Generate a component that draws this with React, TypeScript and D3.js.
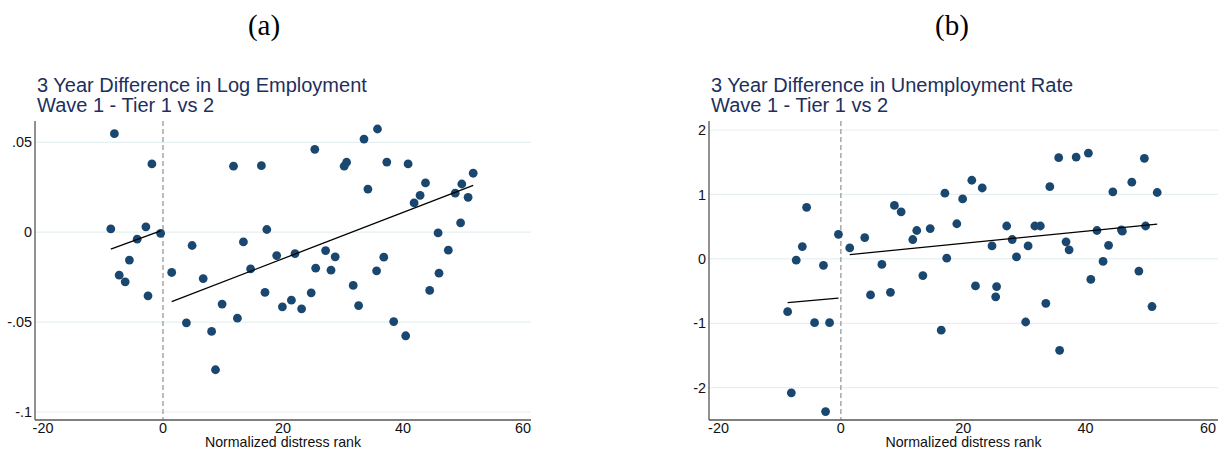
import React from 'react';
import * as d3 from 'd3';

// normalized distress rank of each county (shared by both panels)
const rankPre = [-8.7, -8.1, -7.3, -6.3, -5.6, -4.3, -2.85, -2.5, -1.85, -0.4];
const rankPost = [
  1.45, 3.9, 4.85, 6.7, 8.1, 8.75, 9.85, 11.75, 12.4, 13.4,
  14.6, 16.4, 17.0, 17.3, 18.95, 19.9, 21.4, 22.0, 23.1, 24.7,
  25.3, 25.45, 27.1, 28.0, 28.7, 30.2, 30.6, 31.7, 32.6, 33.5,
  34.15, 35.6, 35.75, 36.8, 37.3, 38.45, 40.45, 40.85, 41.85, 42.85,
  43.75, 44.45, 45.85, 46.0, 47.55, 48.7, 49.6, 49.8, 50.85, 51.7
];

// (a) 3 year difference in log employment
const empPre = [0.0018, 0.0548, -0.0239, -0.0276, -0.0155, -0.0039, 0.003, -0.0354, 0.038, -0.0006];
const empPost = [
  -0.0224, -0.0504, -0.0074, -0.0258, -0.0552, -0.0765, -0.04, 0.0367, -0.0478, -0.0054,
  -0.0204, 0.037, -0.0335, 0.0015, -0.013, -0.0415, -0.0378, -0.0119, -0.0426, -0.0337,
  0.0461, -0.02, -0.0102, -0.0211, -0.0137, 0.0367, 0.0389, -0.0296, -0.0408, 0.0518,
  0.024, -0.0215, 0.0574, -0.0139, 0.039, -0.0497, -0.0576, 0.038, 0.0163, 0.0205,
  0.0274, -0.0324, -0.0004, -0.0228, -0.01, 0.0217, 0.0052, 0.0268, 0.0194, 0.0328
];
// fitted line endpoints [x0, y0, x1, y1]
const empFitPre = [-8.7, -0.0094, -0.4, 0.0007];
const empFitPost = [1.45, -0.0386, 51.7, 0.0261];

// (b) 3 year difference in unemployment rate
const unPre = [-0.82, -2.08, -0.02, 0.19, 0.8, -0.99, -0.1, -2.37, -0.99, 0.38];
const unPost = [
  0.17, 0.33, -0.56, -0.087, -0.52, 0.83, 0.73, 0.3, 0.44, -0.26,
  0.47, -1.107, 1.02, 0.01, 0.545, 0.93, 1.22, -0.42, 1.1, 0.2,
  -0.59, -0.43, 0.51, 0.3, 0.03, -0.98, 0.2, 0.51, 0.51, -0.69,
  1.12, 1.57, -1.42, 0.265, 0.14, 1.58, 1.64, -0.32, 0.44, -0.04,
  0.21, 1.04, 0.45, 0.43, 1.19, -0.19, 1.56, 0.51, -0.74, 1.03
];
const unFitPre = [-8.7, -0.68, -0.4, -0.61];
const unFitPost = [1.45, 0.064, 51.7, 0.54];

const xTicks = [-20, 0, 20, 40, 60];
const empTicks = [0.05, 0, -0.05, -0.1];
const empTickLabels = ['.05', '0', '-.05', '-.1'];
const unTicks = [2, 1, 0, -1, -2];
const unTickLabels = ['2', '1', '0', '-1', '-2'];

const W = 1221;
const H = 452;
const FONT = '"Liberation Sans", Arial, Helvetica, sans-serif';
const DOT = '#1a476f';
const TITLE = '#1e2f5e';

const Panel = ({ left, right, x0, x1, xr0, xr1, yDom, yRange, yTicks, yLabels, title, yPre, yPost, fitPre, fitPost }) => {
  const top = 121;
  const bottom = 420;
  const x = d3.scaleLinear().domain([x0, x1]).range([xr0, xr1]);
  const y = d3.scaleLinear().domain(yDom).range(yRange);
  const pts = rankPre.map((r, i) => [r, yPre[i]]).concat(rankPost.map((r, i) => [r, yPost[i]]));
  const line = d3.line().x(d => x(d[0])).y(d => y(d[1]));

  return (
    <g fontFamily={FONT}>
      <text x={left + 2} y={92} fontSize={20} fill={TITLE}>{title[0]}</text>
      <text x={left + 2} y={112} fontSize={20} fill={TITLE}>{title[1]}</text>

      {yTicks.map((t, i) => (
        <g key={'g' + i}>
          <line x1={left} x2={right} y1={y(t)} y2={y(t)} stroke="#e6eff1" strokeWidth={1.2} />
          <text x={left - 3} y={y(t)} dy="0.36em" textAnchor="end" fontSize={14.4} fill="#111">{yLabels[i]}</text>
        </g>
      ))}

      <line x1={x(0)} x2={x(0)} y1={top} y2={bottom} stroke="#9a9a9a" strokeWidth={1.3} strokeDasharray="5,3" />

      {pts.map((p, i) => (
        <circle key={'p' + i} cx={x(p[0])} cy={y(p[1])} r={4.4} fill={DOT} />
      ))}

      <path d={line([[fitPre[0], fitPre[1]], [fitPre[2], fitPre[3]]])} stroke="#000" strokeWidth={1.3} fill="none" />
      <path d={line([[fitPost[0], fitPost[1]], [fitPost[2], fitPost[3]]])} stroke="#000" strokeWidth={1.3} fill="none" />

      <line x1={left} x2={left} y1={top} y2={bottom} stroke="#555" strokeWidth={1.3} />
      <line x1={left} x2={right} y1={bottom} y2={bottom} stroke="#555" strokeWidth={1.3} />

      {xTicks.map(t => (
        <text key={'x' + t} x={x(t)} y={433} textAnchor="middle" fontSize={14.4} fill="#111">{t}</text>
      ))}
      <text x={(left + right) / 2} y={447} textAnchor="middle" fontSize={14.2} fill="#111">Normalized distress rank</text>
    </g>
  );
};

export default function App() {
  return (
    <svg width={W} height={H} style={{ position: 'absolute', left: 0, top: 0, background: '#fff' }}>
      <rect width={W} height={H} fill="#fff" />
      <text x={264} y={35} textAnchor="middle" fontFamily='"Liberation Serif", "DejaVu Serif", serif' fontSize={29}>(a)</text>
      <text x={952} y={35} textAnchor="middle" fontFamily='"Liberation Serif", "DejaVu Serif", serif' fontSize={29}>(b)</text>

      <Panel
        left={35} right={531}
        x0={-20} x1={60} xr0={43} xr1={523}
        yDom={[-0.1, 0.05]} yRange={[412, 142.3]}
        yTicks={empTicks} yLabels={empTickLabels}
        title={['3 Year Difference in Log Employment', 'Wave 1 - Tier 1 vs 2']}
        yPre={empPre} yPost={empPost} fitPre={empFitPre} fitPost={empFitPost}
      />
      <Panel
        left={709} right={1218}
        x0={-20} x1={60} xr0={718.5} xr1={1208}
        yDom={[-2, 2]} yRange={[387.7, 130]}
        yTicks={unTicks} yLabels={unTickLabels}
        title={['3 Year Difference in Unemployment Rate', 'Wave 1 - Tier 1 vs 2']}
        yPre={unPre} yPost={unPost} fitPre={unFitPre} fitPost={unFitPost}
      />
    </svg>
  );
}
